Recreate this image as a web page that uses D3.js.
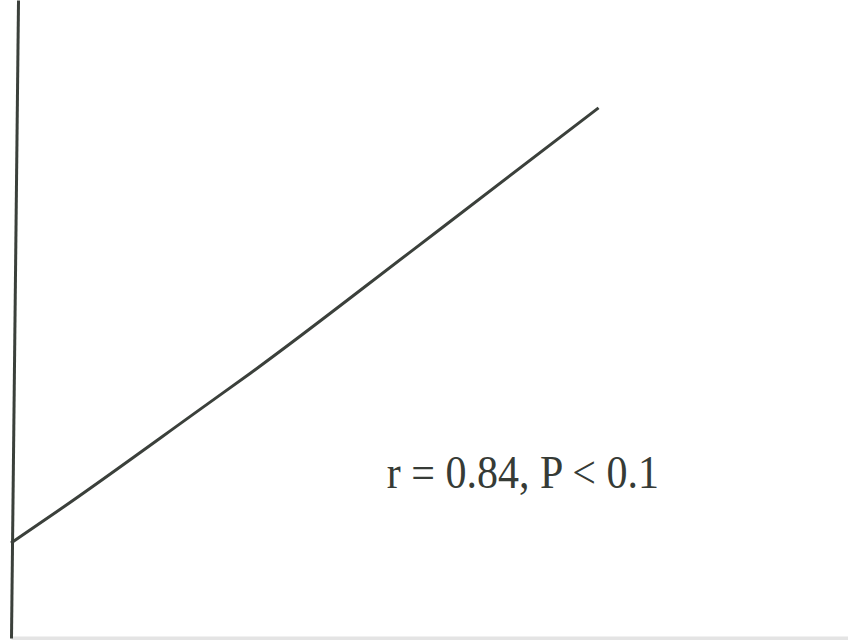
<!DOCTYPE html>
<html lang="en">
<meta charset="utf-8">
<script src="https://d3js.org/d3.v7.min.js"></script>
<style>
    body { margin: 0; background: #fff; }
    .note { font: 42px "Liberation Serif", "Times New Roman", serif; fill: #363b36; }
</style>
<svg id="base" width="848" height="640"></svg>

<script>
    // trend line (arbitrary units, 0-100 both ways)
    var xVals = [0, 5.8, 23.5, 28.6, 48.0, 51.3, 70.2];
    var yVals = [14.9, 20.1, 36.7, 41.5, 60.8, 64.1, 83.1];
    var label = "r = 0.84, P < 0.1";
    var labelAt = [44.9, 23.5];

    var svg = d3.select("#base");

    var x = d3.scaleLinear()
        .domain([0, 100])
        .range([11, 848]);

    var y = d3.scaleLinear()
        .domain([0, 100])
        .range([638, 0]);

    // faint bottom edge
    svg.append("g")
        .attr("transform", "translate(0," + y(0) + ")")
        .call(d3.axisBottom(x).ticks(0).tickSizeOuter(0))
        .select(".domain")
        .attr("stroke", "#e4e4e4")
        .attr("stroke-width", 4);

    // y axis, a touch off vertical like the scan
    svg.append("g")
        .attr("transform", "rotate(0.63," + x(0) + "," + y(0) + ") translate(" + x(0) + ",0)")
        .call(d3.axisLeft(y).ticks(0).tickSizeOuter(0))
        .select(".domain")
        .attr("stroke", "#3b403b")
        .attr("stroke-width", 3);

    var pts = xVals.map(function (d, i) { return [d, yVals[i]]; });

    svg.append("path")
        .datum(pts)
        .attr("fill", "none")
        .attr("stroke", "#3b403b")
        .attr("stroke-width", 3)
        .attr("d", d3.line()
            .curve(d3.curveMonotoneX)
            .x(function (d) { return x(d[0]); })
            .y(function (d) { return y(d[1]); }));

    // slightly taller glyphs than the plain font, as in the scan
    var tx = x(labelAt[0]), ty = y(labelAt[1]);
    svg.append("text")
        .attr("class", "note")
        .attr("transform", "translate(" + tx + "," + ty + ") scale(1,1.08)")
        .text(label);
</script>
</html>
